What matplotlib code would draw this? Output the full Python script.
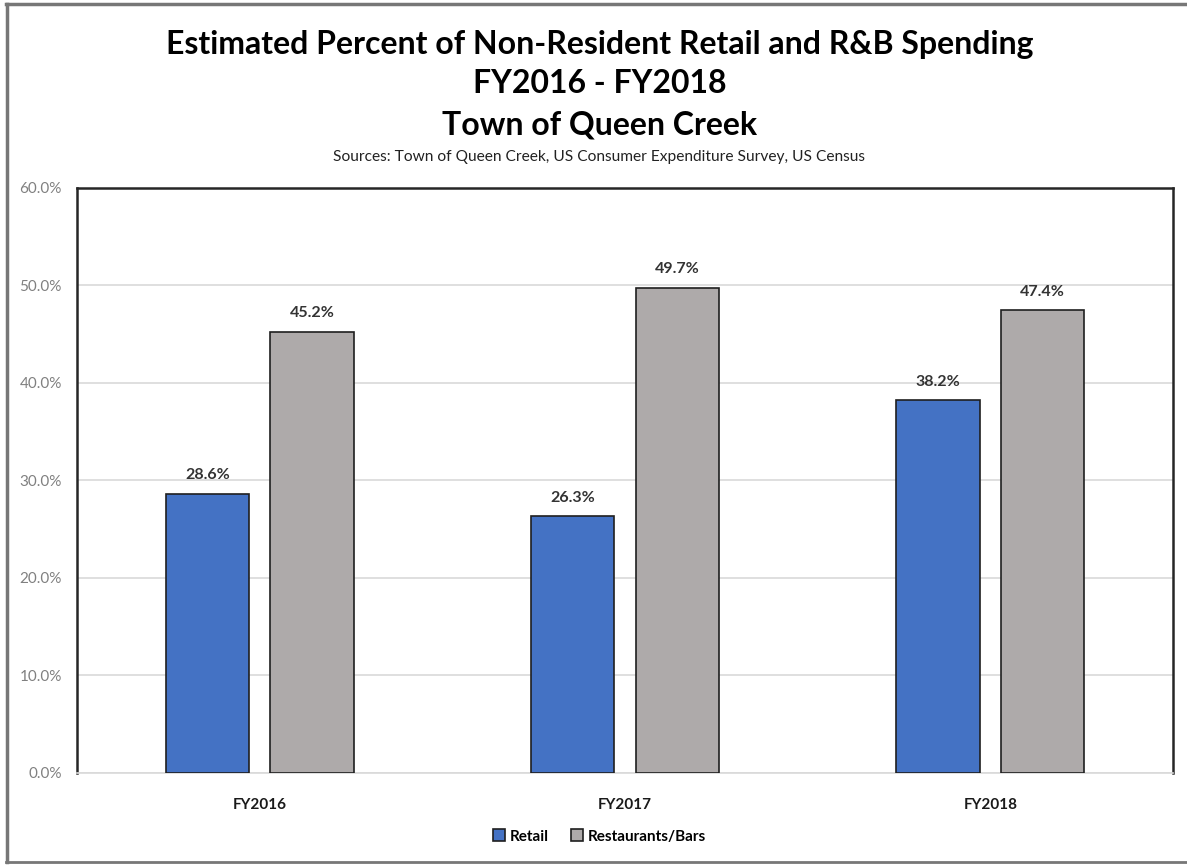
import matplotlib
matplotlib.use("Agg")
import matplotlib.pyplot as plt
from matplotlib.lines import Line2D
import numpy as np

categories = ["FY2016", "FY2017", "FY2018"]
retail = [28.6, 26.3, 38.2]
restaurants = [45.2, 49.7, 47.4]
series_names = ["Retail", "Restaurants/Bars"]
yticks = [0, 10, 20, 30, 40, 50, 60]

plt.rcParams['font.family'] = ['Lato', 'DejaVu Sans']

fig = plt.figure(figsize=(11.87, 8.65), dpi=100)
ax = fig.add_axes([0.0649, 0.1064, 0.9233, 0.6768])

x = np.arange(len(categories))
w = 0.228
off = 0.143
b1 = ax.bar(x - off, retail, w, color="#4472C4", edgecolor="#1f1f1f", linewidth=1.2, zorder=3, label=series_names[0])
b2 = ax.bar(x + off, restaurants, w, color="#AEAAAA", edgecolor="#1f1f1f", linewidth=1.2, zorder=3, label=series_names[1])

for bars, vals in ((b1, retail), (b2, restaurants)):
    for r, v in zip(bars, vals):
        ax.text(r.get_x() + r.get_width() / 2, v + 1.2, f"{v:.1f}%", ha="center", va="bottom",
                fontsize=11.5, fontweight="bold", color="#333333")

ax.set_xlim(-0.5, 2.5)
ax.set_ylim(0, 60)
ax.set_yticks(yticks)
ax.set_yticklabels([f"{t:.1f}%" for t in yticks], color="#808080", fontsize=11)
ax.set_xticks(x)
ax.set_xticklabels(categories, fontsize=11, fontweight="bold", color="#1a1a1a")
ax.tick_params(axis="both", length=0)
ax.tick_params(axis="y", pad=11)
ax.tick_params(axis="x", pad=18)
ax.grid(axis="y", color="#d9d9d9", linewidth=1.2, zorder=0)
for s in ax.spines.values():
    s.set_color("#262626")
    s.set_linewidth(1.8)
ax.spines["bottom"].set_color("#d9d9d9")
ax.spines["bottom"].set_linewidth(1.2)

fig.text(0.505, 0.948, "Estimated Percent of Non-Resident Retail and R&B Spending", ha="center", va="center",
         fontsize=23, fontweight="bold", color="black")
fig.text(0.505, 0.903, "FY2016 - FY2018", ha="center", va="center", fontsize=23, fontweight="bold", color="black")
fig.text(0.505, 0.855, "Town of Queen Creek", ha="center", va="center", fontsize=23, fontweight="bold", color="black")
fig.text(0.505, 0.818, "Sources: Town of Queen Creek, US Consumer Expenditure Survey, US Census", ha="center",
         va="center", fontsize=11.2, color="#222222")

leg = fig.legend(handles=[b1, b2], labels=series_names, loc="center", bbox_to_anchor=(0.505, 0.033), ncol=2,
                 frameon=False, prop={"weight": "bold", "size": 11}, handlelength=0.8, handleheight=0.8,
                 handletextpad=0.3, columnspacing=1.5)

# outer frame (top, left, bottom)
fc = "#777777"
fig.add_artist(Line2D([0.005, 1.0], [0.995, 0.995], transform=fig.transFigure, color=fc, linewidth=2.5))
fig.add_artist(Line2D([0.006, 0.006], [0.003, 0.995], transform=fig.transFigure, color=fc, linewidth=2.5))
fig.add_artist(Line2D([0.005, 1.0], [0.003, 0.003], transform=fig.transFigure, color=fc, linewidth=2))

fig.savefig("out.png", dpi=100, facecolor="white")
